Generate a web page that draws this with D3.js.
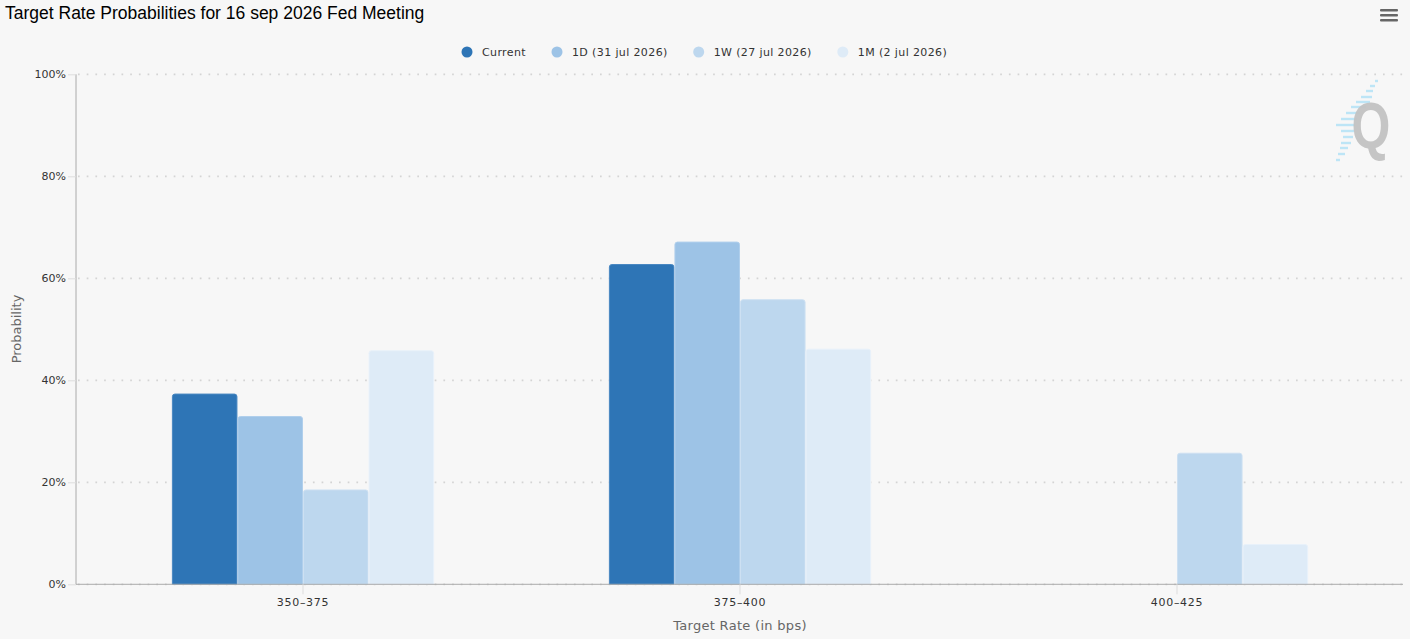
<!DOCTYPE html>
<html>
<head>
<meta charset="utf-8">
<script src="https://cdn.jsdelivr.net/npm/d3@7"></script>
<style>
  html, body { margin: 0; padding: 0; background: #f7f7f7; }
  svg { display: block; }
</style>
</head>
<body>
<div id="chart"></div>
<script>
const categories = ["350-375", "375-400", "400-425"];
const seriesNames = ["Current", "1D (31 jul 2026)", "1W (27 jul 2026)", "1M (2 jul 2026)"];
const current = [37.3, 62.7, 0];
const oneDay = [32.9, 67.1, 0];
const oneWeek = [18.5, 55.8, 25.7];
const oneMonth = [45.8, 46.1, 7.8];
const yTicks = [0, 20, 40, 60, 80, 100];

const COLORS = ["#2e75b6", "#9dc3e6", "#bdd7ee", "#deebf7"];
const BORDERS = ["#4a88c2", "#b0cfec", "#cde0f2", "#e8f1fa"];

const WIDTH = 1410, HEIGHT = 639;
const PLOT = { LEFT: 76, RIGHT: 1403, TOP: 74.3, BOTTOM: 584.3 };

const svg = d3.select("#chart")
    .append("svg")
    .attr("width", WIDTH)
    .attr("height", HEIGHT)
    .style("font-family", "'DejaVu Sans', sans-serif");

svg.append("rect")
    .attr("width", WIDTH)
    .attr("height", HEIGHT)
    .attr("fill", "#f7f7f7");

// title
svg.append("text")
    .attr("x", 5)
    .attr("y", 19)
    .attr("font-family", "'Liberation Sans', Arial, sans-serif")
    .attr("font-size", 17.5)
    .attr("fill", "#000")
    .text("Target Rate Probabilities for 16 sep 2026 Fed Meeting");

// menu icon
[0, 5, 10].forEach(dy => {
    svg.append("rect")
        .attr("x", 1380).attr("y", 9 + dy)
        .attr("width", 18).attr("height", 2.6)
        .attr("rx", 1)
        .attr("fill", "#666");
});

const y = d3.scaleLinear()
    .domain([0, 100])
    .range([PLOT.BOTTOM, PLOT.TOP]);

const x0 = d3.scaleBand()
    .domain(categories)
    .range([84.5, 1395.5])
    .padding(0);

const x1 = d3.scaleBand()
    .domain(seriesNames)
    .range([x0.bandwidth() * 0.2, x0.bandwidth() * 0.8])
    .padding(0);

// grid
svg.append("g")
    .selectAll("line")
    .data(yTicks)
    .join("line")
    .attr("x1", PLOT.LEFT + 2)
    .attr("x2", PLOT.RIGHT)
    .attr("y1", d => y(d))
    .attr("y2", d => y(d))
    .attr("stroke", "#d4d4d4")
    .attr("stroke-width", 1.7)
    .attr("stroke-dasharray", "1.7,7");

// watermark logo (stripes + Q)
const stripes = [
    [81, 1375, 1378], [86, 1370, 1375], [91, 1366, 1373], [97, 1361, 1372],
    [102, 1356, 1370], [107, 1351, 1366], [113, 1346, 1360], [119, 1341, 1357],
    [125, 1336, 1355], [131, 1341, 1354], [137, 1343, 1353], [143, 1341, 1351],
    [148, 1340, 1348], [154, 1338, 1345], [160, 1336, 1340]
];
const logo = svg.append("g");
logo.selectAll("line")
    .data(stripes)
    .join("line")
    .attr("x1", d => d[1]).attr("x2", d => d[2])
    .attr("y1", d => d[0]).attr("y2", d => d[0])
    .attr("stroke", "#bde5f6")
    .attr("stroke-width", 2.4);
logo.append("text")
    .attr("transform", "translate(1371,148) scale(0.78,1)")
    .attr("text-anchor", "middle")
    .attr("font-family", "'Liberation Sans', Arial, sans-serif")
    .attr("font-weight", "bold")
    .attr("font-size", 64)
    .attr("fill", "#c2c2c2")
    .attr("fill-opacity", 0.95)
    .text("Q");

// bars
const table = categories.map((c, i) => ({
    category: c,
    values: [current[i], oneDay[i], oneWeek[i], oneMonth[i]]
}));

function topRounded(x, yTop, w, h, r) {
    if (h <= 0) return "";
    r = Math.min(r, h);
    return `M${x},${yTop + h}V${yTop + r}Q${x},${yTop} ${x + r},${yTop}` +
        `H${x + w - r}Q${x + w},${yTop} ${x + w},${yTop + r}V${yTop + h}Z`;
}

const groups = svg.append("g")
    .selectAll("g")
    .data(table)
    .join("g")
    .attr("transform", d => `translate(${x0(d.category)},0)`);

groups.selectAll("path")
    .data(d => d.values.map((v, j) => ({ name: seriesNames[j], value: v, j })))
    .join("path")
    .attr("d", d => topRounded(x1(d.name) + 0.5, y(d.value), x1.bandwidth() - 1, y(0) - y(d.value), 2.5))
    .attr("fill", d => COLORS[d.j])
    .attr("stroke", d => BORDERS[d.j])
    .attr("stroke-width", 1);

// y axis
const yAxis = svg.append("g")
    .attr("transform", `translate(${PLOT.LEFT},0)`)
    .call(d3.axisLeft(y).tickValues(yTicks).tickFormat(d => d + "%").tickSize(8).tickPadding(2));
yAxis.select(".domain").attr("stroke", "#aaa").attr("d", `M0,${PLOT.TOP}V${PLOT.BOTTOM}`);
yAxis.selectAll(".tick line").attr("stroke", "#ddd");
yAxis.selectAll(".tick text")
    .attr("fill", "#333")
    .attr("font-size", 11)
    .attr("font-family", "'DejaVu Sans', sans-serif");

// x axis
const xAxis = svg.append("g")
    .attr("transform", `translate(0,${PLOT.BOTTOM})`)
    .call(d3.axisBottom(x0).tickSize(10).tickPadding(4).tickFormat(d => d.replace("-", "–")));
xAxis.select(".domain").attr("stroke", "#aaa").attr("d", `M${PLOT.LEFT},0H${PLOT.RIGHT}`);
xAxis.selectAll(".tick line").attr("stroke", "#ddd");
xAxis.selectAll(".tick text")
    .attr("fill", "#333")
    .attr("font-size", 11)
    .attr("letter-spacing", 0.7)
    .attr("font-family", "'DejaVu Sans', sans-serif");

// axis titles
svg.append("text")
    .attr("x", 740)
    .attr("y", 630)
    .attr("text-anchor", "middle")
    .attr("font-size", 13)
    .attr("letter-spacing", 0.3)
    .attr("fill", "#666")
    .text("Target Rate (in bps)");

svg.append("text")
    .attr("transform", "translate(21,329) rotate(-90)")
    .attr("text-anchor", "middle")
    .attr("font-size", 13)
    .attr("fill", "#666")
    .text("Probability");

// legend
const legend = svg.append("g").attr("transform", "translate(0,52)");
const items = legend.selectAll("g")
    .data(seriesNames)
    .join("g");
items.append("circle")
    .attr("r", 5.5)
    .attr("cx", 0)
    .attr("cy", 0)
    .attr("fill", (d, i) => COLORS[i]);
items.append("text")
    .attr("x", 15)
    .attr("y", 4)
    .attr("font-size", 11)
    .attr("letter-spacing", 0.38)
    .attr("fill", "#333")
    .text(d => d);

let widths = [];
items.each(function () {
    widths.push(15 + this.querySelector("text").getComputedTextLength());
});
const gap = 31;
let cursor = 467;
items.attr("transform", (d, i) => {
    const t = `translate(${cursor},0)`;
    cursor += widths[i] + gap;
    return t;
});
</script>
</body>
</html>
